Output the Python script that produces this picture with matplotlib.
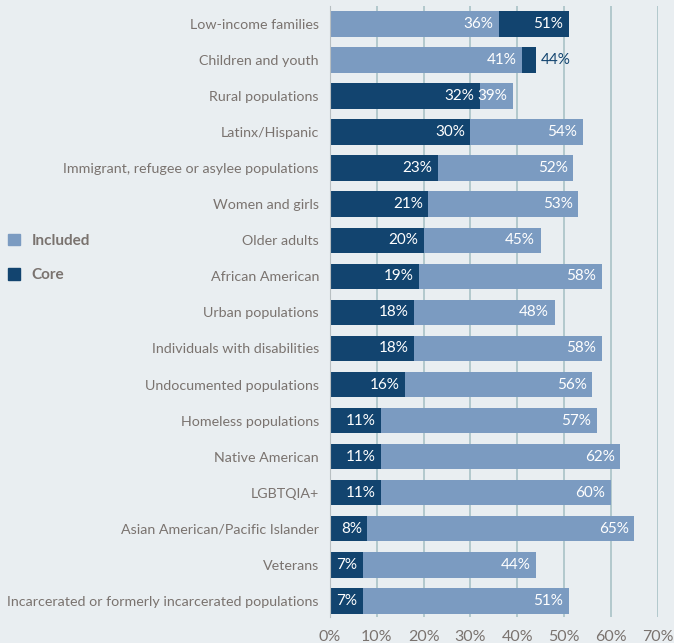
import matplotlib
matplotlib.use("Agg")
import matplotlib.pyplot as plt
from matplotlib.patches import Patch

#### data (percent of respondents)
groups = ["Low-income families", "Children and youth", "Rural populations",
          "Latinx/Hispanic", "Immigrant, refugee or asylee populations",
          "Women and girls", "Older adults", "African American",
          "Urban populations", "Individuals with disabilities",
          "Undocumented populations", "Homeless populations",
          "Native American", "LGBTQIA+", "Asian American/Pacific Islander",
          "Veterans", "Incarcerated or formerly incarcerated populations"]
core = [51, 44, 32, 30, 23, 21, 20, 19, 18, 18, 16, 11, 11, 11, 8, 7, 7]
included = [36, 41, 39, 54, 52, 53, 45, 58, 48, 58, 56, 57, 62, 60, 65, 44, 51]
xticks = [0, 10, 20, 30, 40, 50, 60, 70]

#### style
bg = "#e9eef1"
light = "#7b9bc1"
dark = "#12446f"
grid_c = "#a9c2c6"
txt_c = "#7a736f"
plt.rcParams['font.family'] = ['Lato', 'DejaVu Sans']

fig = plt.figure(figsize=(6.74, 6.43), dpi=100, facecolor=bg)
ax = fig.add_axes([0.4896, 0.0404, 0.4862, 0.9503])
ax.set_facecolor(bg)

h = 0.71
for i, (c, inc) in enumerate(zip(core, included)):
    # longer bar behind, shorter one in front
    if c >= inc:
        ax.barh(i, c, height=h, color=dark, zorder=2)
        ax.barh(i, inc, height=h, color=light, zorder=3)
    else:
        ax.barh(i, inc, height=h, color=light, zorder=2)
        ax.barh(i, c, height=h, color=dark, zorder=3)
    for v, other in ((c, inc), (inc, c)):
        if v > other and v - other < 5:
            # segment too narrow -> label outside the bar
            ax.text(v + 1.0, i, f"{v}%", ha='left', va='center',
                    color=dark, fontsize=11, zorder=5)
        else:
            ax.text(v - 1.2, i, f"{v}%", ha='right', va='center',
                    color='white', fontsize=11, zorder=5)

ax.set_xlim(0, 70)
ax.set_ylim(16.45, -0.5)
ax.set_xticks(xticks)
ax.set_xticklabels([f"{t}%" for t in xticks], color=txt_c, fontsize=11.5)
ax.set_yticks(range(len(groups)))
ax.set_yticklabels(groups, color=txt_c, fontsize=10.3)
ax.tick_params(axis='y', length=0, pad=8)
ax.tick_params(axis='x', length=0, pad=9)
ax.xaxis.grid(True, color=grid_c, linewidth=1.2, zorder=1)
ax.set_axisbelow(True)
for s in ['top', 'right', 'bottom']:
    ax.spines[s].set_visible(False)
ax.spines['left'].set_color('#b8bfc2')
ax.spines['left'].set_zorder(4)

handles = [Patch(color=light, label='Included'), Patch(color=dark, label='Core')]
leg = fig.legend(handles=handles, loc='upper left', bbox_to_anchor=(-0.008, 0.658),
                 frameon=False, handlelength=0.75, handleheight=0.75,
                 handletextpad=0.75, labelspacing=1.35, fontsize=11)
for t in leg.get_texts():
    t.set_color(txt_c)
    t.set_fontweight('bold')

fig.savefig("out.png", dpi=100, facecolor=bg)
